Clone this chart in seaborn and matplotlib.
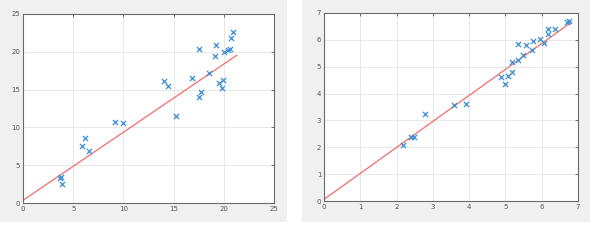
import matplotlib
matplotlib.use("Agg")
import matplotlib.pyplot as plt
from matplotlib.patches import Rectangle
import seaborn as sns
import pandas as pd

# Left panel data
left_x = [3.81, 3.65, 3.85, 5.87, 6.2, 6.53, 9.18, 9.95, 14.0, 14.42, 15.22, 16.81,
          17.57, 17.5, 17.77, 18.57, 19.23, 19.1, 19.56, 19.89, 19.79, 20.03, 20.39,
          20.62, 20.72, 20.95]
left_y = [3.48, 3.3, 2.55, 7.6, 8.58, 6.82, 10.78, 10.56, 16.15, 15.5, 11.53, 16.5,
          20.38, 14.0, 14.66, 17.16, 20.9, 19.45, 15.93, 16.28, 15.18, 19.94, 20.25,
          20.42, 21.87, 22.58]
left_line_x = [0.0, 21.3]
left_line_y = [0.35, 19.55]
left_ticks = [0, 5, 10, 15, 20, 25]

# Right panel data
right_x = [2.18, 2.41, 2.49, 2.78, 3.59, 3.91, 4.88, 4.99, 5.07, 5.18, 5.18, 5.36,
           5.36, 5.48, 5.57, 5.73, 5.76, 5.96, 6.05, 6.17, 6.17, 6.37, 6.70, 6.76]
right_y = [2.09, 2.40, 2.40, 3.23, 3.57, 3.60, 4.61, 4.35, 4.64, 4.79, 5.16, 5.24,
           5.84, 5.43, 5.79, 5.63, 5.97, 6.03, 5.88, 6.40, 6.21, 6.40, 6.65, 6.71]
right_line_x = [0.0, 6.82]
right_line_y = [0.06, 6.66]
right_ticks = [0, 1, 2, 3, 4, 5, 6, 7]

sns.set_theme(style="white")
plt.rcParams['font.family'] = ['DejaVu Sans']

fig = plt.figure(figsize=(5.9, 2.46), dpi=100)
fig.patch.set_facecolor("white")
fig.add_artist(Rectangle((0, 24/246), 287/590, 222/246, transform=fig.transFigure,
                         facecolor="#f0f0f0", edgecolor="none", zorder=-5))
fig.add_artist(Rectangle((302/590, 24/246), 288/590, 222/246, transform=fig.transFigure,
                         facecolor="#f0f0f0", edgecolor="none", zorder=-5))

ax1 = fig.add_axes([23/590, (246-203)/246, 251/590, 189/246], zorder=1)
ax2 = fig.add_axes([324/590, (246-201)/246, 254/590, 188/246], zorder=1)

def style(ax, sx, sy, lx, ly, ticks):
    ax.set_facecolor("white")
    sns.lineplot(x=lx, y=ly, ax=ax, color="#f07878", linewidth=1.0, zorder=2)
    sns.scatterplot(x=sx, y=sy, ax=ax, marker="x", color="#3a8ed4", s=14,
                    linewidth=0.9, zorder=3)
    ax.set_xlim(ticks[0], ticks[-1])
    ax.set_ylim(ticks[0], ticks[-1])
    ax.set_xticks(ticks)
    ax.set_yticks(ticks)
    ax.set_xticklabels([str(t) for t in ticks])
    ax.set_yticklabels([str(t) for t in ticks])
    ax.grid(True, color="#e4e4e4", linewidth=0.6)
    ax.set_axisbelow(True)
    for s in ax.spines.values():
        s.set_visible(True)
        s.set_color("#6a6a6a")
        s.set_linewidth(0.8)
    ax.tick_params(axis="both", direction="in", length=2, width=0.6, color="#555555",
                   labelsize=5, labelcolor="#555555", pad=2,
                   top=True, right=True)
    ax.set_xlabel("")
    ax.set_ylabel("")

style(ax1, left_x, left_y, left_line_x, left_line_y, left_ticks)
style(ax2, right_x, right_y, right_line_x, right_line_y, right_ticks)

fig.savefig("out.png", dpi=100)
